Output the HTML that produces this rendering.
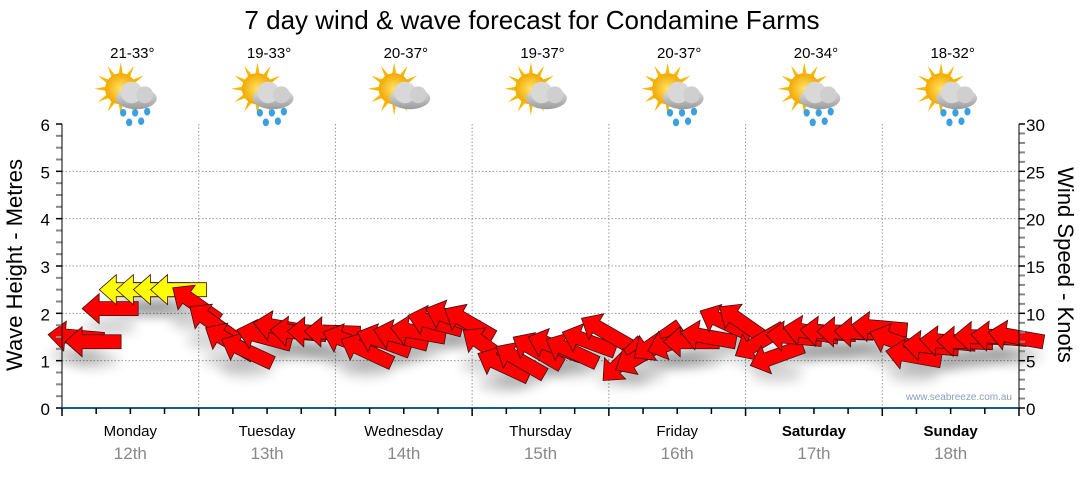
<!DOCTYPE html>
<html><head><meta charset="utf-8"><style>
body{margin:0;background:#fff;width:1080px;height:475px;overflow:hidden;font-family:"Liberation Sans",Arial,sans-serif}
</style></head><body>
<svg id="c" width="1080" height="475" xmlns="http://www.w3.org/2000/svg">
<defs>
<filter id="sh" x="-50%" y="-50%" width="200%" height="250%"><feGaussianBlur stdDeviation="6"/></filter>
<radialGradient id="sun" cx="50%" cy="50%" r="50%"><stop offset="0" stop-color="#ffe36a"/><stop offset="1" stop-color="#f2a900"/></radialGradient>
<linearGradient id="cloud" x1="0" y1="0" x2="0" y2="1"><stop offset="0" stop-color="#e8e8e8"/><stop offset="1" stop-color="#9a9a9a"/></linearGradient>
</defs>
<text x="532" y="29" text-anchor="middle" font-size="26" fill="#000">7 day wind &amp; wave forecast for Condamine Farms</text>
<g id="grid"></g>
<g id="icons"></g>
<g id="shadows"></g>
<g id="arrows"></g>
<g id="axes"></g>
<text transform="translate(22,265) rotate(-90)" text-anchor="middle" font-size="22">Wave Height - Metres</text>
<text transform="translate(1058,265) rotate(90)" text-anchor="middle" font-size="22">Wind Speed - Knots</text>
<text x="1012" y="400" text-anchor="end" font-size="10" fill="#8aa0c0">www.seabreeze.com.au</text>
</svg>
<script>
const days=["Monday","Tuesday","Wednesday","Thursday","Friday","Saturday","Sunday"];
const dates=["12th","13th","14th","15th","16th","17th","18th"];
const temps=["21-33°","19-33°","20-37°","19-37°","20-37°","20-34°","18-32°"];
const rainIcon=[1,1,0,0,1,1,1];
const waveTicks=[0,1,2,3,4,5,6];
const windTicks=[0,5,10,15,20,25,30];
const hours=[0,3,6,9,12,15,18,21,24,27,30,33,36,39,42,45,48,51,54,57,60,63,66,69,72,75,78,81,84,87,90,93,96,99,102,105,108,111,114,117,120,123,126,129,132,135,138,141,144,147,150,153,156,159,162,165];
const windSpeed=[7.5,7,10.5,12.5,12.5,12.5,12.5,11,9,7,6,7.5,8.5,8,8,8,7,6,7,7.5,8,9,9.5,9,6.5,4.5,5,6,6.5,6,7,8,5,5.5,7,7,7,7.5,9,9,7,5.5,7.5,8,8,8,8,8.5,7,5.5,6.5,7,7,7.5,7.5,7.5];
const windDir=[95,90,90,90,90,90,90,125,125,120,115,105,100,95,92,92,110,115,110,105,100,105,110,120,125,115,120,120,110,115,110,120,45,60,55,70,90,100,115,125,60,70,95,100,95,92,92,95,110,100,95,95,92,92,95,100];
const svg=document.getElementById('c'),NS="http://www.w3.org/2000/svg";
const X0=62,X1=1019,Y0=408,Y6=124;
const xH=h=>X0+(X1-X0)*h/168;
const yM=m=>Y0-(Y0-Y6)*m/6;
const yK=k=>Y0-(Y0-Y6)*k/30;
function el(t,a,p){const e=document.createElementNS(NS,t);for(const k in a)e.setAttribute(k,a[k]);p.appendChild(e);return e;}
const grid=document.getElementById('grid'),axes=document.getElementById('axes'),icons=document.getElementById('icons');
waveTicks.forEach(m=>{
  if(m>0&&m<6){const g=el('line',{x1:X0,x2:X1,y1:yM(m),y2:yM(m),stroke:'#999','stroke-dasharray':'1.5,2'},grid);
  
  }
  const t=el('text',{x:50,y:yM(m)+7,'text-anchor':'end','font-size':17},axes);t.textContent=m;
  
  
});
for(let i=0;i<=24;i++){const y=yM(i/4);el('line',{x1:X0-6,x2:X0,y1:y,y2:y,stroke:i%4?'#888':'#000','stroke-width':i%4?2:1.5},axes);}
windTicks.forEach(k=>{const t=el('text',{x:1026,y:yK(k)+7,'font-size':17},axes);t.textContent=k;
  
  });
for(let i=0;i<=30;i++){const y=yK(i);el('line',{x1:X1,x2:X1+6,y1:y,y2:y,stroke:i%5?'#888':'#000','stroke-width':i%5?2:1.5},axes);}
el('line',{x1:X0,x2:X0,y1:Y6,y2:Y0,stroke:'#000'},axes);
el('line',{x1:X1,x2:X1,y1:Y6,y2:Y0,stroke:'#000'},axes);
el('line',{x1:X0,x2:X1,y1:Y0,y2:Y0,stroke:'#1a5a8a','stroke-width':2},axes);
for(let h=0;h<=168;h+=6){const x=xH(h);el('line',{x1:x,x2:x,y1:Y0,y2:Y0+(h%24?6:8),stroke:'#000','stroke-width':1.5},axes);
 if(h%24==0&&h>0&&h<168){const g=el('line',{x1:x,x2:x,y1:Y6,y2:Y0,stroke:'#999','stroke-dasharray':'1.5,2'},grid);
  
  }}
days.forEach((d,i)=>{const cx=xH(i*24+12);
 const t=el('text',{x:cx,y:436,'text-anchor':'middle','font-size':15,'font-weight':i>=5?'bold':'normal'},axes);t.textContent=d;
 
 
 const t2=el('text',{x:cx,y:459,'text-anchor':'middle','font-size':17,fill:'#888'},axes);t2.textContent=dates[i];
 
 
 const tt=el('text',{x:cx+2,y:58,'text-anchor':'middle','font-size':15},icons);tt.textContent=temps[i];
 
 
 const g=el('g',{transform:`translate(${cx},96) scale(1.2)`},icons);
 
 
 for(let a=0;a<360;a+=30){const r=a*Math.PI/180;el('polygon',{points:`${-8+Math.cos(r-0.15)*12},${-6+Math.sin(r-0.15)*12} ${-8+Math.cos(r)*22},${-6+Math.sin(r)*22} ${-8+Math.cos(r+0.15)*12},${-6+Math.sin(r+0.15)*12}`,fill:'#f5b800'},g);}
 el('circle',{cx:-8,cy:-6,r:13,fill:'url(#sun)'},g);
 el('ellipse',{cx:5,cy:2,rx:17,ry:9,fill:'url(#cloud)'},g);
 el('circle',{cx:1,cy:-3,r:9,fill:'#d8d8d8'},g);
 el('circle',{cx:12,cy:-1,r:7,fill:'#cfcfcf'},g);
 if(rainIcon[i]){[[-6,14],[4,14],[14,13],[-1,22],[9,21]].forEach(p=>el('ellipse',{cx:p[0],cy:p[1],rx:2.6,ry:3.2,fill:'#3aa0e0'},g));}
});
const arrowsG=document.getElementById('arrows'),shG=document.getElementById('shadows');
const shape="M-28,0 L-11,-15 L-11,-7 L28,-7 L28,7 L-11,7 L-11,15 Z";
hours.forEach((h,i)=>{
 const x=xH(h)+14,y=yK(windSpeed[i]);
 const ang=windDir[i]-90;
 el('ellipse',{cx:x,cy:y+18,rx:26,ry:8,fill:'#000',opacity:0.18,filter:'url(#sh)'},shG);
 const fill=windSpeed[i]>=12?'#ffff00':'#ff0000';
 const p=el('path',{d:shape,transform:`translate(${x},${y}) rotate(${ang})`,fill:fill,stroke:'#3a1010','stroke-width':0.8},arrowsG);
 
 
});
</script>
</body></html>
